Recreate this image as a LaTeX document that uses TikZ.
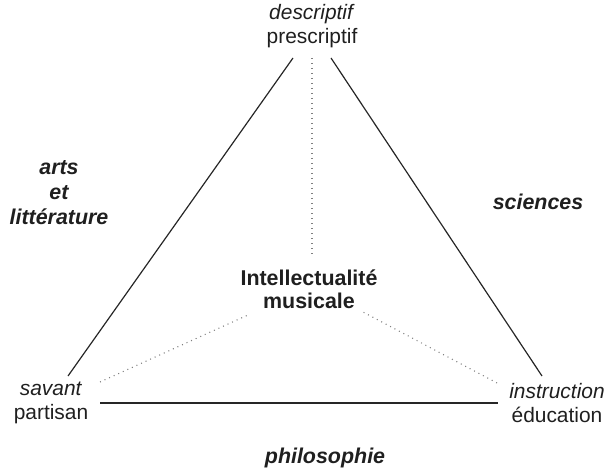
\documentclass[tikz,border=0pt]{standalone}
\usepackage{fontspec}
\setmainfont{Liberation Sans}
\begin{document}
\begin{tikzpicture}[x=1bp,y=-1bp,
  lbl/.style={inner sep=0pt, align=center, text=black!88, font=\fontsize{21}{24}\selectfont},
  pole/.style={lbl, font=\fontsize{21.5}{25}\selectfont\bfseries\itshape},
  edge/.style={line width=1.2bp, black!85},
  link/.style={line width=1.1bp, black!50, dash pattern=on 1bp off 4bp}]
\useasboundingbox (0,0) rectangle (607,469);

% corner labels
\node[lbl] (top) at (312,26) {\textit{descriptif}\\prescriptif};
\node[lbl] (left) at (51,403) {\textit{savant}\\partisan};
\node[lbl] (right) at (557,403) {\textit{instruction}\\éducation};
\node[lbl, font=\fontsize{21.5}{23}\selectfont\bfseries] (centre) at (309,289) {Intellectualité\\musicale};

% side labels
\node[pole] (arts) at (59,193) {arts\\et\\littérature};
\node[pole] (sci) at (538,202) {sciences};
\node[pole] (philo) at (325,458) {philosophie};

% endpoints of the triangle sides
\coordinate (tl) at (293,58);
\coordinate (tr) at (331,58);
\coordinate (tm) at (312,58);
\coordinate (bl) at (68,376);
\coordinate (br) at (542,376);
\coordinate (hl) at (100,403);
\coordinate (hr) at (498,403);
\coordinate (dl) at (100,382);
\coordinate (dr) at (497,383);
\coordinate (cl) at (248,315);
\coordinate (cr) at (363,312);
\coordinate (ct) at (312,258);

% triangle
\draw[edge] (tl) -- (bl);
\draw[edge] (tr) -- (br);
\draw[edge] (hl) -- (hr);

% dotted links to the centre
\draw[link] (tm) -- (ct);
\draw[link] (dl) -- (cl);
\draw[link] (dr) -- (cr);
\end{tikzpicture}
\end{document}
